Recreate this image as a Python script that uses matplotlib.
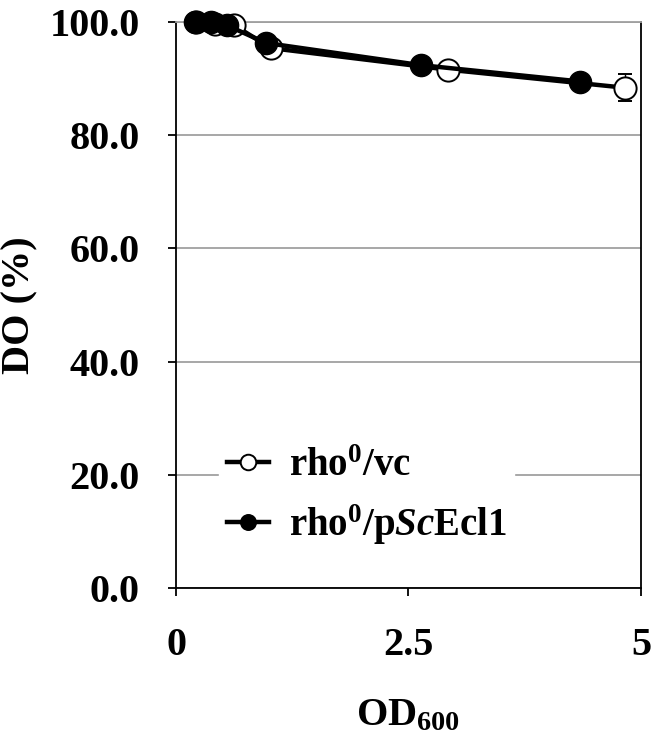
import matplotlib
matplotlib.use('Agg')
import matplotlib.pyplot as plt

# DO (%) against OD600 for the two rho0 strains
od_vc = [0.22, 0.42, 0.62, 1.02, 2.92, 4.83]
do_vc = [100.0, 99.6, 99.5, 95.4, 91.6, 88.4]
err_vc = [0.2, 0.3, 0.3, 0.5, 0.8, 2.4]

od_ecl1 = [0.20, 0.38, 0.55, 0.97, 2.63, 4.35]
do_ecl1 = [100.0, 100.0, 99.4, 96.3, 92.4, 89.5]
err_ecl1 = [0.2, 0.2, 0.3, 0.5, 0.6, 0.8]

xticks = [0, 2.5, 5]
xticklabels = ['0', '2.5', '5']
yticks = [0, 20, 40, 60, 80, 100]

plt.rcParams['font.family'] = ['Liberation Serif']
plt.rcParams['font.weight'] = 'bold'
plt.rcParams['axes.labelweight'] = 'bold'
plt.rcParams['mathtext.fontset'] = 'custom'
plt.rcParams['mathtext.rm'] = 'Liberation Serif:bold'
plt.rcParams['mathtext.it'] = 'Liberation Serif:bold:italic'
plt.rcParams['mathtext.bf'] = 'Liberation Serif:bold'

fig = plt.figure(figsize=(6.52, 7.36), dpi=100)
ax = fig.add_axes([0.27, 0.201, 0.713, 0.769])

ax.errorbar(od_vc, do_vc, yerr=err_vc, color='black', lw=3.2, marker='o',
            ms=16, mfc='white', mec='black', mew=1.4, capsize=5, elinewidth=1,
            label=r'rho$^{0}$/vc', clip_on=False, zorder=3)
ax.errorbar(od_ecl1, do_ecl1, yerr=err_ecl1, color='black', lw=3.2, marker='o',
            ms=16, mfc='black', mec='black', capsize=5, elinewidth=1,
            label=r'rho$^{0}$/p$\mathit{Sc}$Ecl1', clip_on=False, zorder=4)

ax.set_xlim(0, 5)
ax.set_ylim(0, 100)
ax.set_xticks(xticks)
ax.set_xticklabels(xticklabels)
ax.set_yticks(yticks)
ax.set_yticklabels(['%.1f' % v for v in yticks])
ax.yaxis.grid(True, color='#a0a0a0', lw=1.3)
ax.set_axisbelow(True)

ax.spines['top'].set_color('#a0a0a0')
ax.spines['top'].set_linewidth(1.3)
for s in ['left', 'right', 'bottom']:
    ax.spines[s].set_linewidth(1.3)

ax.tick_params(axis='both', direction='out', length=6, width=1.3,
               labelsize=29)
ax.tick_params(axis='y', pad=20)
ax.tick_params(axis='x', pad=22)

ax.set_xlabel('OD$_{600}$', fontsize=29, labelpad=24)
ax.set_ylabel('DO (%)', fontsize=29, labelpad=8)

handles, labels = ax.get_legend_handles_labels()
handles = [h[0] for h in handles]
leg = ax.legend(handles, labels, loc='center left', bbox_to_anchor=(0.05, 0.16),
                frameon=True, fontsize=28, handlelength=1.1, handletextpad=0.5,
                markerscale=0.7, labelspacing=0.45, borderpad=0.2)
leg.get_frame().set_edgecolor('white')
leg.get_frame().set_facecolor('white')
leg.get_frame().set_alpha(1)

fig.savefig('out.png', dpi=100)
